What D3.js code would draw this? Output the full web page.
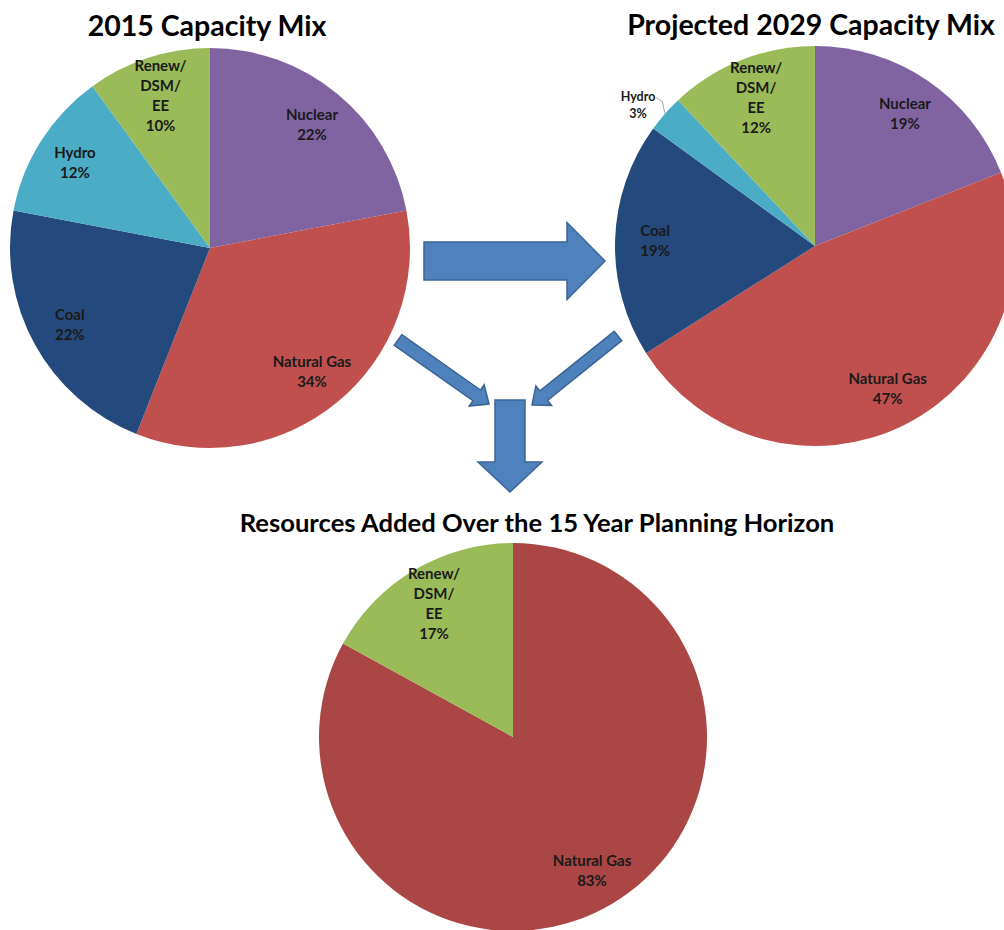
<!DOCTYPE html>
<html>
<head>
<meta charset="utf-8">
<script src="https://cdn.jsdelivr.net/npm/d3@7"></script>
<style>
  body { margin: 0; background: #fff; }
  svg { display: block; font-family: Lato, "Open Sans", sans-serif; }
</style>
</head>
<body>
<svg id="drawing_region"></svg>
<script>
// values (percent of capacity)
const categories2015 = ["Nuclear", "Natural Gas", "Coal", "Hydro", "Renew/DSM/EE"];
const values2015 = [22, 34, 22, 12, 10];

const categories2029 = ["Nuclear", "Natural Gas", "Coal", "Hydro", "Renew/DSM/EE"];
const values2029 = [19, 47, 19, 3, 12];

const categoriesAdded = ["Natural Gas", "Renew/DSM/EE"];
const valuesAdded = [83, 17];

const titles = ["2015 Capacity Mix", "Projected 2029 Capacity Mix",
                "Resources Added Over the 15 Year Planning Horizon"];

const colors = {
    "Nuclear": "#8064a2",
    "Natural Gas": "#c0504d",
    "Coal": "#24497c",
    "Hydro": "#4bacc6",
    "Renew/DSM/EE": "#9bbb59"
};

const width = 1004, height = 930;

const svg = d3.select('#drawing_region')
    .attr('width', width)
    .attr('height', height);

// arrows go under the pies
const arrows = svg.append('g');

function drawPie(config, cats, vals) {
    const data = cats.map((c, i) => ({label: c, value: vals[i]}));
    const r = config.radius;

    const pie = d3.pie().sort(null).value(d => d.value);
    const arc = d3.arc().innerRadius(0).outerRadius(r);
    const labelArc = d3.arc().innerRadius(r * 0.8).outerRadius(r * 0.8);
    const outerArc = d3.arc().innerRadius(r * 1.14).outerRadius(r * 1.14);

    const g = svg.append('g')
        .attr('transform', `translate(${config.cx}, ${config.cy})`);

    const arcs = pie(data);

    g.selectAll('path').data(arcs).enter()
        .append('path')
        .attr('d', arc)
        .attr('fill', d => (config.colors && config.colors[d.data.label]) || colors[d.data.label]);

    arcs.forEach(d => {
        const small = d.data.value < 5;
        const lines = d.data.label.split(/(?<=\/)/).concat([d.data.value + '%']);
        let [x, y] = small ? outerArc.centroid(d) : labelArc.centroid(d);
        if (small) { x -= 6; y += 10; }
        const t = g.append('text')
            .attr('text-anchor', 'middle')
            .attr('font-weight', 'bold')
            .attr('font-size', small ? 12.5 : 15)
            .attr('fill', '#1a1a1a');
        const lh = small ? 17 : 20;
        const y0 = y - (lines.length - 1) * lh / 2;
        lines.forEach((s, i) => {
            t.append('tspan')
                .attr('x', x)
                .attr('y', y0 + i * lh)
                .attr('dy', '0.35em')
                .text(s);
        });
        if (small) {
            // leader line from the label to the slice edge
            const w = t.node().getBBox();
            const edge = d3.arc().innerRadius(r).outerRadius(r).centroid(d);
            const sx = w.x + w.width + 1, sy = y0 + 1;
            g.append('path')
                .attr('d', d3.line()([[sx, sy], [sx + 6, sy + 4], [edge[0], edge[1]]]))
                .attr('fill', 'none')
                .attr('stroke', '#8c8c8c')
                .attr('stroke-width', 0.8);
        }
    });

    svg.append('text')
        .attr('x', config.titleX)
        .attr('y', config.titleY)
        .attr('text-anchor', 'middle')
        .attr('font-weight', 'bold')
        .attr('font-size', config.titleSize)
        .attr('fill', '#000')
        .text(config.title);
}

drawPie({cx: 210, cy: 248, radius: 200, title: titles[0], titleX: 207, titleY: 36, titleSize: 28.5},
        categories2015, values2015);
drawPie({cx: 815, cy: 246, radius: 200, title: titles[1], titleX: 811, titleY: 35, titleSize: 28.5},
        categories2029, values2029);
drawPie({cx: 513, cy: 737, radius: 194, title: titles[2], titleX: 537, titleY: 532, titleSize: 25.6,
         colors: {"Natural Gas": "#aa4644"}},
        categoriesAdded, valuesAdded);

// block arrow from (x1,y1) to tip (x2,y2)
function blockArrow(x1, y1, x2, y2, shaftW, headW, headL) {
    const len = Math.hypot(x2 - x1, y2 - y1);
    const ang = Math.atan2(y2 - y1, x2 - x1) * 180 / Math.PI;
    const s = shaftW / 2, h = headW / 2, b = len - headL;
    const pts = [[0, -s], [b, -s], [b, -h], [len, 0], [b, h], [b, s], [0, s]];
    arrows.append('polygon')
        .attr('points', pts.map(p => p.join(',')).join(' '))
        .attr('transform', `translate(${x1}, ${y1}) rotate(${ang})`)
        .attr('fill', '#4f81bd')
        .attr('stroke', '#3a6595')
        .attr('stroke-width', 1.5)
        .attr('stroke-linejoin', 'miter');
}

blockArrow(424, 261, 605, 261, 38, 77, 38);
blockArrow(398, 340, 489, 404, 13, 26, 15);
blockArrow(618, 336, 532, 405, 12, 25, 15);
blockArrow(510, 400, 510, 492, 30, 64, 30);
</script>
</body>
</html>
